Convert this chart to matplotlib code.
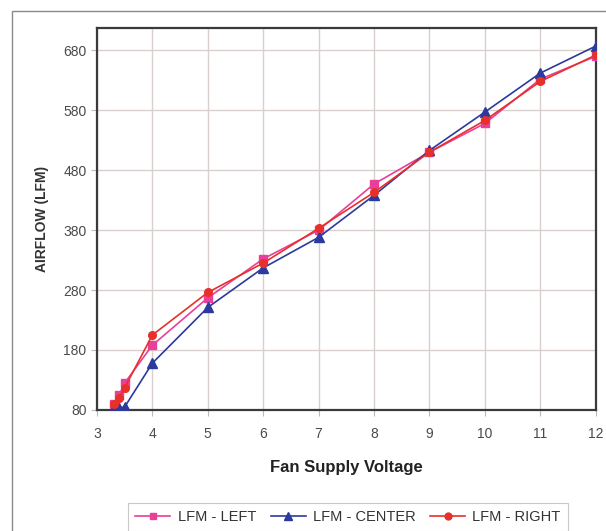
import numpy as np
import matplotlib
matplotlib.use("Agg")
import matplotlib.pyplot as plt
from matplotlib.patches import Rectangle

plt.rcParams['font.family'] = ['Liberation Sans', 'DejaVu Sans']

# fan supply voltage (V)
voltage = [3.3, 3.4, 3.5, 4, 5, 6, 7, 8, 9, 10, 11, 12]
# airflow readings (LFM)
lfm_left = [90, 105, 125, 188, 267, 332, 380, 457, 510, 558, 632, 670]
lfm_center = [83, 83, 85, 158, 251, 317, 368, 438, 513, 577, 642, 687]
lfm_right = [90, 100, 117, 205, 276, 325, 383, 443, 510, 563, 628, 672]

y_ticks = [80, 180, 280, 380, 480, 580, 680]
x_ticks = [3, 4, 5, 6, 7, 8, 9, 10, 11, 12]

fig = plt.figure(figsize=(6.06, 5.31), dpi=100)
ax = fig.add_axes([0.160, 0.228, 0.823, 0.719])

# outer chart border
fig.patches.append(Rectangle((12 / 606, -0.1), 1.2, 1.1 - 11 / 531,
                             transform=fig.transFigure, fill=False,
                             edgecolor='#8a8a8a', linewidth=1.0))

ax.plot(voltage, lfm_left, color='#e8409a', marker='s', markersize=5.5,
        linewidth=1.2, label='LFM - LEFT', zorder=3)
ax.plot(voltage, lfm_center, color='#2b3a9c', marker='^', markersize=6.5,
        linewidth=1.2, label='LFM - CENTER', zorder=3)
ax.plot(voltage, lfm_right, color='#e8302a', marker='o', markersize=5.5,
        linewidth=1.2, label='LFM - RIGHT', zorder=3)

ax.set_xlim(3, 12)
ax.set_ylim(80, 717)
ax.set_xticks(x_ticks)
ax.set_yticks(y_ticks)
ax.grid(True, color='#d8d0cc', linewidth=1.0)
ax.set_axisbelow(True)

for s in ax.spines.values():
    s.set_color('#3a3a3a')
    s.set_linewidth(1.6)

ax.tick_params(axis='both', colors='#bbbbbb', length=4, width=0.8,
               labelcolor='#4a4a4a', labelsize=10)
ax.tick_params(axis='x', pad=8)

ax.set_xlabel('Fan Supply Voltage', fontsize=12, fontweight='bold',
              color='#222222', labelpad=14)
ax.set_ylabel('AIRFLOW (LFM)', fontsize=10, fontweight='bold',
              color='#333333', labelpad=10)

leg = fig.legend(loc='center', bbox_to_anchor=(348 / 606, 1 - 517 / 531),
                 ncol=3, frameon=True, fontsize=10.5, handlelength=2.4,
                 columnspacing=1.0, handletextpad=0.5, fancybox=False,
                 borderpad=0.5, markerscale=0.9)
leg.get_frame().set_edgecolor('#bbbbbb')
leg.get_frame().set_linewidth(0.8)
for t in leg.get_texts():
    t.set_color('#333333')

fig.savefig('out.png', dpi=100)
